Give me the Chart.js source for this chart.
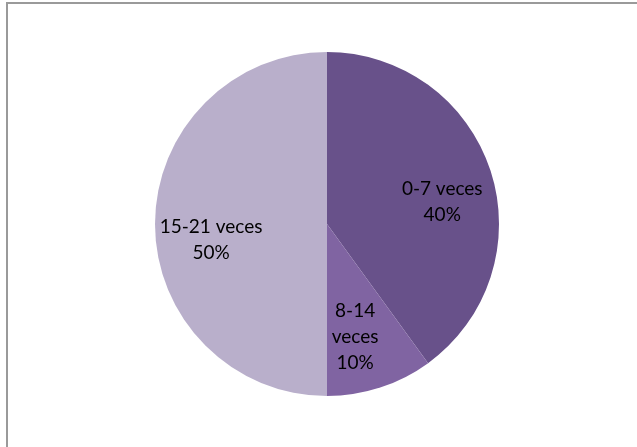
<!DOCTYPE html>
<html>
<head>
<meta charset="utf-8">
<script src="https://cdn.jsdelivr.net/npm/chart.js@4"></script>
<style>
    html, body { margin: 0; padding: 0; background: #fff; overflow: hidden; }
    #wrap { position: relative; width: 637px; height: 447px; }
    #frame {
        position: absolute; left: 6px; top: 2px; width: 700px; height: 500px;
        border: 2px solid #9a9a9a; box-sizing: border-box;
    }
    canvas { position: absolute; left: 0; top: 0; }
</style>
</head>
<body>
<div id="wrap">
    <div id="frame"></div>
    <canvas id="pie" width="637" height="447"></canvas>
</div>
<script>
// Data
const categories = ['0-7 veces', '8-14 veces', '15-21 veces'];
const values = [40, 10, 50];
const sliceColors = ['#68518a', '#8064a2', '#b9afcb'];

// label placement: fraction of radius along mid angle, plus a small nudge (px)
const labelRadius = 0.68;
const labelNudge = [[4, 14], [-8, 2], [1, 16]];

const sliceLabels = {
    id: 'sliceLabels',
    afterDatasetsDraw(chart) {
        const ctx = chart.ctx;
        const meta = chart.getDatasetMeta(0);
        const total = values.reduce((a, b) => a + b, 0);
        ctx.save();
        ctx.font = '19px Lato, "Liberation Sans", sans-serif';
        ctx.fillStyle = '#000';
        ctx.textAlign = 'center';
        ctx.textBaseline = 'middle';
        meta.data.forEach((arc, i) => {
            const p = arc.getProps(['x', 'y', 'startAngle', 'endAngle', 'outerRadius']);
            const mid = (p.startAngle + p.endAngle) / 2;
            const r = p.outerRadius * labelRadius;
            const cx = p.x + Math.cos(mid) * r + labelNudge[i][0];
            const cy = p.y + Math.sin(mid) * r + labelNudge[i][1];
            const pct = Math.round(values[i] / total * 100) + '%';
            // narrow slices get the category broken over two lines
            const lines = values[i] / total < 0.15
                ? categories[i].split(' ').concat([pct])
                : [categories[i], pct];
            const lh = 26;
            const top = cy - (lines.length - 1) * lh / 2;
            lines.forEach((t, k) => ctx.fillText(t, cx, top + k * lh));
        });
        ctx.restore();
    }
};

new Chart(document.getElementById('pie'), {
    type: 'pie',
    data: {
        labels: categories,
        datasets: [{
            data: values,
            backgroundColor: sliceColors,
            borderWidth: 0
        }]
    },
    options: {
        responsive: false,
        animation: false,
        layout: { padding: { left: 20, right: 3, top: 52, bottom: 51 } },
        plugins: {
            legend: { display: false },
            tooltip: { enabled: false }
        }
    },
    plugins: [sliceLabels]
});
</script>
</body>
</html>
